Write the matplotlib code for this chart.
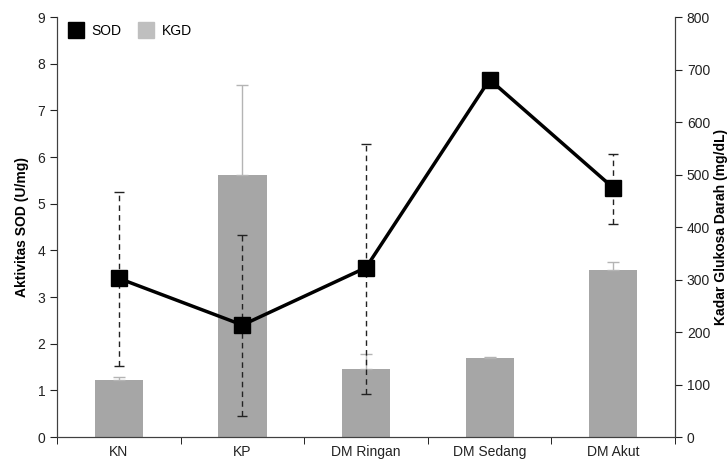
import numpy as np
import matplotlib
matplotlib.use("Agg")
import matplotlib.pyplot as plt
from matplotlib.lines import Line2D

plt.rcParams['font.family'] = ['Liberation Sans', 'DejaVu Sans']

# 데이터
kelompok = ["KN", "KP", "DM Ringan", "DM Sedang", "DM Akut"]
sod = [3.40, 2.40, 3.63, 7.66, 5.34]
sod_err_bawah = [1.88, 1.95, 2.71, 0.0, 0.78]
sod_err_atas = [1.86, 1.93, 2.64, 0.0, 0.72]
kgd = [109, 500, 130, 150, 319]
kgd_err = [6, 170, 28, 2, 15]

x = np.arange(len(kelompok))

fig, ax = plt.subplots(figsize=(7.27, 4.66), dpi=100)
fig.subplots_adjust(left=0.0784, right=0.9285, bottom=0.0622, top=0.9635)
ax2 = ax.twinx()

# KGD 막대 (오른쪽 축)
ax2.bar(x, kgd, width=0.39, color="#a6a6a6", zorder=2)
ax2.errorbar(x, kgd, yerr=[np.zeros(len(kgd)), kgd_err], fmt="none",
             ecolor="#b4b4b4", elinewidth=1, capsize=4, capthick=1, zorder=3)
ax2.set_ylim(0, 800)
ax2.set_yticks(range(0, 801, 100))
ax2.set_ylabel("Kadar Glukosa Darah (mg/dL)", fontsize=10, fontweight="bold", labelpad=3)

# SOD 선 (왼쪽 축)
ax.set_zorder(ax2.get_zorder() + 1)
ax.patch.set_visible(False)
eb = ax.errorbar(x, sod, yerr=[sod_err_bawah, sod_err_atas], fmt="none",
                 ecolor="#222222", elinewidth=1, capsize=3.5, capthick=1, zorder=3)
for lc in eb[2]:
    lc.set_linestyle((0, (4, 3)))
ax.plot(x, sod, color="black", linewidth=2.5, marker="s", markersize=11, zorder=4)
ax.set_ylim(0, 9)
ax.set_yticks(range(0, 10))
ax.set_ylabel("Aktivitas SOD (U/mg)", fontsize=10, fontweight="bold", labelpad=6)

ax.set_xlim(-0.5, len(kelompok) - 0.5)
ax.set_xticks(x)
ax.set_xticklabels(kelompok)
ax.set_xticks(np.arange(-0.5, len(kelompok)), minor=True)
ax.tick_params(axis="x", which="major", length=0, labelsize=10, pad=6)
ax.tick_params(axis="x", which="minor", length=5, direction="out")
ax.tick_params(axis="y", labelsize=10, direction="out", length=5)
ax2.tick_params(axis="y", labelsize=10, direction="out", length=5)

for a in (ax, ax2):
    a.spines["top"].set_visible(False)
    for s in ("left", "right", "bottom"):
        a.spines[s].set_color("#404040")
ax.tick_params(colors="#222222")
ax2.tick_params(colors="#222222")

# 범례
handles = [
    Line2D([], [], linestyle="none", marker="s", markersize=11, color="black"),
    Line2D([], [], linestyle="none", marker="s", markersize=11, color="#bfbfbf"),
]
ax.legend(handles, ["SOD", "KGD"], loc="upper left", ncol=2, frameon=False,
          fontsize=10, handletextpad=0.1, columnspacing=0.8,
          bbox_to_anchor=(-0.005, 1.004), borderaxespad=0.2)

plt.savefig("out.png", dpi=100)
